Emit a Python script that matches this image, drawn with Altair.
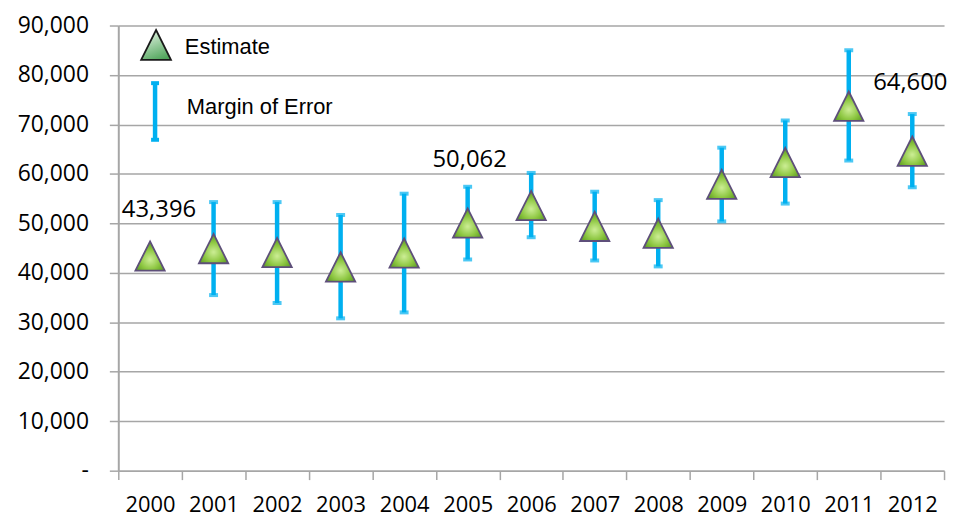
import altair as alt
import pandas as pd

years = [str(y) for y in range(2000, 2013)]
estimate = [43396, 44900, 44100, 41200, 44000, 50062, 53600, 49400, 48000, 57900, 62300, 73700, 64600]
moe_low = [None, 35500, 33900, 30800, 32000, 42700, 47200, 42500, 41300, 50400, 54000, 62700, 57300]
moe_high = [None, 54300, 54300, 51700, 56000, 57400, 60200, 56400, 54700, 65300, 70800, 85000, 72100]
y_ticks = [0, 10000, 20000, 30000, 40000, 50000, 60000, 70000, 80000, 90000]
legend_labels = ["Estimate", "Margin of Error"]

df = pd.DataFrame({"year": years, "est": estimate, "lo": moe_low, "hi": moe_high})
df["label"] = df["est"].map(lambda v: f"{v:,}")

GRID = "#A6A6A6"
BLUE = "#00B0F0"
TRI = "M0,-1L1,1L-1,1Z"

x_enc = alt.X(
    "year:N",
    sort=years,
    scale=alt.Scale(paddingInner=0, paddingOuter=0),
    axis=alt.Axis(
        title=None, labelAngle=0, tickBand="extent", grid=False,
        labelFont="Open Sans", labelFontSize=22, labelColor="#000000",
        tickColor=GRID, tickSize=9, tickWidth=1.5,
        domainColor=GRID, domainWidth=1.5, labelPadding=15,
    ),
)
y_scale = alt.Scale(domain=[0, 90000], nice=False, zero=True)
y_axis = alt.Axis(
    title=None, values=y_ticks, grid=True, gridColor=GRID, gridWidth=1.5,
    domainColor=GRID, domainWidth=2, tickColor=GRID, tickSize=9, tickWidth=1.5,
    labelFont="Open Sans", labelFontSize=23, labelColor="#000000", labelPadding=21,
    labelExpr="datum.value == 0 ? '-\u00a0\u00a0' : format(datum.value, ',')",
)

base = alt.Chart(df)

axes_layer = base.mark_point(opacity=0).encode(
    x=x_enc, y=alt.Y("est:Q", scale=y_scale, axis=y_axis)
)

err = base.transform_filter("datum.lo != null")
rules = err.mark_rule(color=BLUE, strokeWidth=4.5).encode(
    x="year:N", y=alt.Y("lo:Q", scale=y_scale), y2="hi:Q"
)
cap_hi = err.mark_tick(color=BLUE, thickness=4, size=9).encode(
    x="year:N", y=alt.Y("hi:Q", scale=y_scale)
)
cap_lo = err.mark_tick(color=BLUE, thickness=4, size=9).encode(
    x="year:N", y=alt.Y("lo:Q", scale=y_scale)
)

tri_fill = alt.RadialGradient(
    gradient="radial",
    stops=[alt.GradientStop(offset=0, color="#CDEE96"),
           alt.GradientStop(offset=0.55, color="#8CC640"),
           alt.GradientStop(offset=1, color="#55931E")],
    x1=0.5, y1=0.62, r1=0, x2=0.5, y2=0.62, r2=0.62,
)
points = base.mark_point(
    shape=TRI, size=870, filled=True, fill=tri_fill, opacity=1,
    stroke="#5E4F7A", strokeWidth=1.8,
).encode(x="year:N", y=alt.Y("est:Q", scale=y_scale))

def value_label(year, dx, dy, field):
    return base.transform_filter(alt.datum.year == year).mark_text(
        font="Open Sans", fontSize=24, color="#000000", dx=dx, dy=dy, baseline="middle"
    ).encode(x="year:N", y=alt.Y(f"{field}:Q", scale=y_scale), text="label:N")

lab2000 = value_label("2000", 9, -46, "est")
lab2005 = value_label("2005", 2, -27, "hi")
lab2012 = value_label("2012", -2, -31, "hi")

one = pd.DataFrame({"k": [0]})
leg_fill = alt.LinearGradient(
    gradient="linear",
    stops=[alt.GradientStop(offset=0, color="#E3F4E3"),
           alt.GradientStop(offset=1, color="#4FA45A")],
    x1=0.3, y1=0, x2=0.7, y2=1,
)
leg_tri = alt.Chart(one).mark_point(
    shape=TRI, size=900, filled=True, fill=leg_fill, opacity=1,
    stroke="#1A1A1A", strokeWidth=1.8,
).encode(x=alt.value(38), y=alt.value(19.5))
leg_rule = alt.Chart(one).mark_rule(color=BLUE, strokeWidth=4.5).encode(
    x=alt.value(37), y=alt.value(58), y2=alt.value(115)
)
leg_cap1 = alt.Chart(one).mark_rule(color=BLUE, strokeWidth=4).encode(
    x=alt.value(33), x2=alt.value(41), y=alt.value(58)
)
leg_cap2 = alt.Chart(one).mark_rule(color=BLUE, strokeWidth=4).encode(
    x=alt.value(33), x2=alt.value(41), y=alt.value(115)
)
LEG_FONT = "Liberation Sans"
leg_text1 = alt.Chart(one).mark_text(
    text=legend_labels[0], font=LEG_FONT,
    fontSize=22, align="left", baseline="middle", color="#000000",
).encode(x=alt.value(67), y=alt.value(22))
leg_text2 = alt.Chart(one).mark_text(
    text=legend_labels[1], font=LEG_FONT,
    fontSize=22, align="left", baseline="middle", color="#000000",
).encode(x=alt.value(69), y=alt.value(82))

chart = alt.layer(
    axes_layer, rules, cap_hi, cap_lo, points, lab2000, lab2005, lab2012,
    leg_tri, leg_rule, leg_cap1, leg_cap2, leg_text1, leg_text2,
).properties(
    width=831, height=448,
    autosize=alt.AutoSizeParams(type="none"),
    padding={"left": 111, "top": 16, "right": 6, "bottom": 47},
    background="white",
).configure_view(stroke=None)

chart.save("out.html", embed_options={"renderer": "svg", "actions": False})
